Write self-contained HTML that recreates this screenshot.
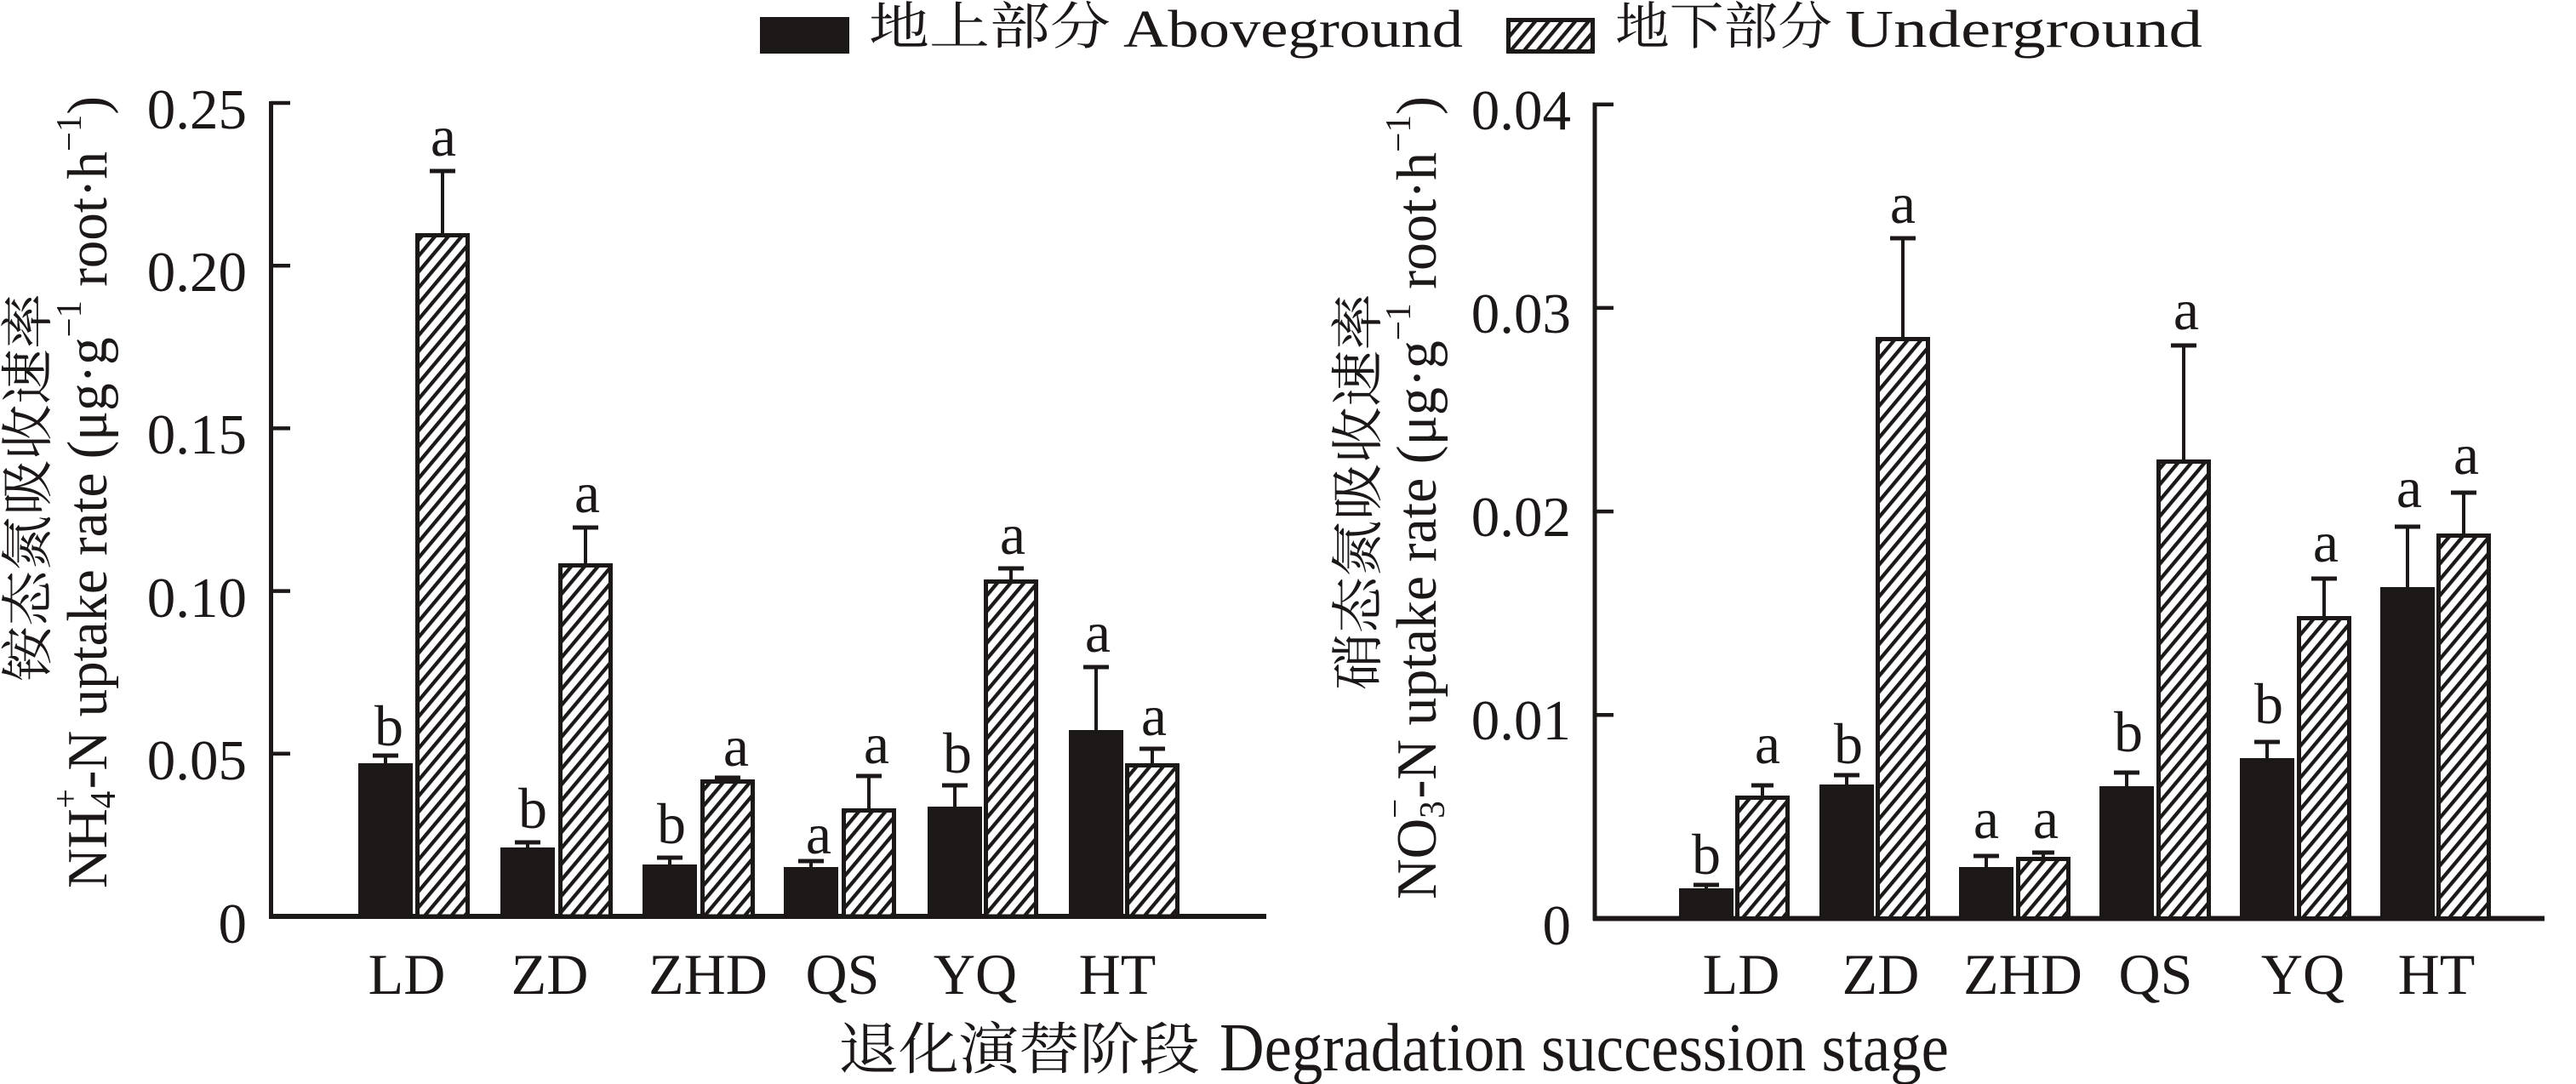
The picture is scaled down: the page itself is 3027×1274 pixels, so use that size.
<!DOCTYPE html>
<html>
<head>
<meta charset="utf-8">
<style>
  html, body { margin:0; padding:0; background:#ffffff; }
  svg { display:block; }
  text { font-family: "Liberation Serif", "Noto Serif CJK SC", serif; fill:#1c1818; }
  .cjk { font-family: "Noto Serif CJK SC", "Liberation Serif", serif; }
</style>
</head>
<body>
<svg width="3027" height="1274" viewBox="0 0 3027 1274" xmlns="http://www.w3.org/2000/svg">
  <defs>
    <pattern id="h" patternUnits="userSpaceOnUse" width="12" height="12" patternTransform="rotate(-50)">
      <rect x="0" y="0" width="12" height="12" fill="#ffffff"/>
      <rect x="-1" y="4" width="14" height="4.3" fill="#1c1818"/>
    </pattern>
  </defs>
  <rect x="0" y="0" width="3027" height="1274" fill="#ffffff"/>

  <!-- Legend -->
  <rect x="893" y="20" width="105" height="43" fill="#1c1818"/>
  <text class="cjk" x="1021" y="52" font-size="60" textLength="284" lengthAdjust="spacingAndGlyphs">地上部分</text>
  <text x="1320" y="55" font-size="62" textLength="399" lengthAdjust="spacingAndGlyphs">Aboveground</text>
  <rect x="1772.5" y="23.5" width="99" height="37" fill="url(#h)" stroke="#1c1818" stroke-width="5"/>
  <text class="cjk" x="1898" y="52" font-size="60" textLength="255" lengthAdjust="spacingAndGlyphs">地下部分</text>
  <text x="2168" y="55" font-size="62" textLength="420" lengthAdjust="spacingAndGlyphs">Underground</text>

  <!-- ================= LEFT CHART ================= -->
  <text class="cjk" transform="translate(54,801) rotate(-90)" font-size="62" textLength="456" lengthAdjust="spacingAndGlyphs">铵态氮吸收速率</text>
  <text transform="translate(125,1044) rotate(-90)" font-size="67" textLength="931" lengthAdjust="spacingAndGlyphs">NH<tspan font-size="42" dy="10">4</tspan><tspan font-size="42" dx="-21" dy="-44">+</tspan><tspan dy="34">-N uptake rate (μg·g</tspan><tspan font-size="42" dy="-30">−1</tspan><tspan dy="30"> root·h</tspan><tspan font-size="42" dy="-30">−1</tspan><tspan dy="30">)</tspan></text>

  <g font-size="67" text-anchor="end">
    <text x="290" y="151">0.25</text>
    <text x="290" y="342">0.20</text>
    <text x="290" y="533">0.15</text>
    <text x="290" y="725">0.10</text>
    <text x="290" y="916">0.05</text>
    <text x="290" y="1108">0</text>
  </g>
  <line x1="318.5" y1="119" x2="318.5" y2="1080" stroke="#1c1818" stroke-width="5"/>
  <line x1="316" y1="1077" x2="1488" y2="1077" stroke="#1c1818" stroke-width="6"/>
  <g stroke="#1c1818" stroke-width="4.5">
    <line x1="318" y1="121" x2="341" y2="121"/>
    <line x1="318" y1="312.2" x2="341" y2="312.2"/>
    <line x1="318" y1="503.4" x2="341" y2="503.4"/>
    <line x1="318" y1="694.6" x2="341" y2="694.6"/>
    <line x1="318" y1="885.8" x2="341" y2="885.8"/>
  </g>

  <g fill="#1c1818">
    <rect x="421" y="897" width="64" height="180"/>
    <rect x="588" y="996" width="64" height="81"/>
    <rect x="755" y="1016" width="64" height="61"/>
    <rect x="921" y="1019" width="64" height="58"/>
    <rect x="1090" y="948" width="64" height="129"/>
    <rect x="1256" y="858" width="64" height="219"/>
  </g>
  <g fill="url(#h)" stroke="#1c1818" stroke-width="5">
    <rect x="490.5" y="276.5" width="59" height="800.5"/>
    <rect x="658.5" y="664.5" width="59" height="412.5"/>
    <rect x="825.5" y="918.5" width="59" height="158.5"/>
    <rect x="991.5" y="952.5" width="59" height="124.5"/>
    <rect x="1158.5" y="683.5" width="59" height="393.5"/>
    <rect x="1324.5" y="899.5" width="59" height="177.5"/>
  </g>
  <g stroke="#1c1818" stroke-width="4">
    <line x1="453" y1="897" x2="453" y2="888"/>
    <line x1="620" y1="996" x2="620" y2="990"/>
    <line x1="787" y1="1016" x2="787" y2="1008"/>
    <line x1="953" y1="1019" x2="953" y2="1012"/>
    <line x1="1122" y1="948" x2="1122" y2="923"/>
    <line x1="1288" y1="858" x2="1288" y2="784"/>
    <line x1="520" y1="274" x2="520" y2="201"/>
    <line x1="688" y1="662" x2="688" y2="620"/>
    <line x1="855" y1="916" x2="855" y2="914"/>
    <line x1="1021" y1="950" x2="1021" y2="912"/>
    <line x1="1188" y1="681" x2="1188" y2="668"/>
    <line x1="1354" y1="897" x2="1354" y2="880"/>
  </g>
  <g stroke="#1c1818" stroke-width="5">
    <line x1="438" y1="888" x2="468" y2="888"/>
    <line x1="605" y1="990" x2="635" y2="990"/>
    <line x1="772" y1="1008" x2="802" y2="1008"/>
    <line x1="938" y1="1012" x2="968" y2="1012"/>
    <line x1="1107" y1="923" x2="1137" y2="923"/>
    <line x1="1273" y1="784" x2="1303" y2="784"/>
    <line x1="505" y1="201" x2="535" y2="201"/>
    <line x1="673" y1="620" x2="703" y2="620"/>
    <line x1="840" y1="914" x2="870" y2="914"/>
    <line x1="1006" y1="912" x2="1036" y2="912"/>
    <line x1="1173" y1="668" x2="1203" y2="668"/>
    <line x1="1339" y1="880" x2="1369" y2="880"/>
  </g>
  <g font-size="68" text-anchor="middle">
    <text x="457" y="876">b</text>
    <text x="521" y="183">a</text>
    <text x="626" y="973">b</text>
    <text x="690" y="602">a</text>
    <text x="789" y="991">b</text>
    <text x="865" y="900">a</text>
    <text x="962" y="1003">a</text>
    <text x="1030" y="897">a</text>
    <text x="1125" y="908">b</text>
    <text x="1190" y="651">a</text>
    <text x="1290" y="766">a</text>
    <text x="1356" y="864">a</text>
  </g>
  <g font-size="68" text-anchor="middle">
    <text x="478" y="1168">LD</text>
    <text x="646" y="1168">ZD</text>
    <text x="832" y="1168">ZHD</text>
    <text x="990" y="1168">QS</text>
    <text x="1146" y="1168">YQ</text>
    <text x="1313" y="1168">HT</text>
  </g>

  <!-- ================= RIGHT CHART ================= -->
  <text class="cjk" transform="translate(1617,811) rotate(-90)" font-size="62" textLength="466" lengthAdjust="spacingAndGlyphs">硝态氮吸收速率</text>
  <text transform="translate(1687,1057) rotate(-90)" font-size="67" textLength="944" lengthAdjust="spacingAndGlyphs">NO<tspan font-size="42" dy="10">3</tspan><tspan font-size="42" dx="-21" dy="-44">−</tspan><tspan dy="34">-N uptake rate (μg·g</tspan><tspan font-size="42" dy="-30">−1</tspan><tspan dy="30"> root·h</tspan><tspan font-size="42" dy="-30">−1</tspan><tspan dy="30">)</tspan></text>

  <g font-size="67" text-anchor="end">
    <text x="1846" y="152">0.04</text>
    <text x="1846" y="391">0.03</text>
    <text x="1846" y="630">0.02</text>
    <text x="1846" y="869">0.01</text>
    <text x="1846" y="1110">0</text>
  </g>
  <line x1="1874" y1="120.5" x2="1874" y2="1082" stroke="#1c1818" stroke-width="5"/>
  <line x1="1872" y1="1079.5" x2="2990" y2="1079.5" stroke="#1c1818" stroke-width="6"/>
  <g stroke="#1c1818" stroke-width="4.5">
    <line x1="1874" y1="122.7" x2="1896" y2="122.7"/>
    <line x1="1874" y1="361.9" x2="1896" y2="361.9"/>
    <line x1="1874" y1="601.1" x2="1896" y2="601.1"/>
    <line x1="1874" y1="840.3" x2="1896" y2="840.3"/>
  </g>

  <g fill="#1c1818">
    <rect x="1973" y="1044" width="64" height="35.5"/>
    <rect x="2138" y="922" width="64" height="157.5"/>
    <rect x="2302" y="1019" width="64" height="60.5"/>
    <rect x="2467" y="924" width="64" height="155.5"/>
    <rect x="2632" y="891" width="64" height="188.5"/>
    <rect x="2797" y="690" width="64" height="389.5"/>
  </g>
  <g fill="url(#h)" stroke="#1c1818" stroke-width="5">
    <rect x="2041.5" y="937.5" width="59" height="142"/>
    <rect x="2206.5" y="398.5" width="59" height="681"/>
    <rect x="2371.5" y="1009.5" width="59" height="70"/>
    <rect x="2536.5" y="542.5" width="59" height="537"/>
    <rect x="2701.5" y="726.5" width="59" height="353"/>
    <rect x="2865.5" y="629.5" width="59" height="450"/>
  </g>
  <g stroke="#1c1818" stroke-width="4">
    <line x1="2005" y1="1044" x2="2005" y2="1040"/>
    <line x1="2170" y1="922" x2="2170" y2="911"/>
    <line x1="2334" y1="1019" x2="2334" y2="1006"/>
    <line x1="2499" y1="924" x2="2499" y2="908"/>
    <line x1="2664" y1="891" x2="2664" y2="872"/>
    <line x1="2829" y1="690" x2="2829" y2="619"/>
    <line x1="2071" y1="935" x2="2071" y2="923"/>
    <line x1="2236" y1="396" x2="2236" y2="280"/>
    <line x1="2401" y1="1007" x2="2401" y2="1002"/>
    <line x1="2566" y1="540" x2="2566" y2="406"/>
    <line x1="2731" y1="724" x2="2731" y2="680"/>
    <line x1="2895" y1="627" x2="2895" y2="579"/>
  </g>
  <g stroke="#1c1818" stroke-width="5">
    <line x1="1990" y1="1040" x2="2020" y2="1040"/>
    <line x1="2155" y1="911" x2="2185" y2="911"/>
    <line x1="2319" y1="1006" x2="2349" y2="1006"/>
    <line x1="2484" y1="908" x2="2514" y2="908"/>
    <line x1="2649" y1="872" x2="2679" y2="872"/>
    <line x1="2814" y1="619" x2="2844" y2="619"/>
    <line x1="2058" y1="923" x2="2084" y2="923"/>
    <line x1="2221" y1="280" x2="2251" y2="280"/>
    <line x1="2388" y1="1002" x2="2414" y2="1002"/>
    <line x1="2551" y1="406" x2="2581" y2="406"/>
    <line x1="2716" y1="680" x2="2746" y2="680"/>
    <line x1="2880" y1="579" x2="2910" y2="579"/>
  </g>
  <g font-size="68" text-anchor="middle">
    <text x="2005" y="1027">b</text>
    <text x="2077" y="897">a</text>
    <text x="2172" y="897">b</text>
    <text x="2236" y="262">a</text>
    <text x="2334" y="985">a</text>
    <text x="2404" y="985">a</text>
    <text x="2501" y="883">b</text>
    <text x="2569" y="387">a</text>
    <text x="2666" y="850">b</text>
    <text x="2733" y="660">a</text>
    <text x="2831" y="596">a</text>
    <text x="2898" y="557">a</text>
  </g>
  <g font-size="68" text-anchor="middle">
    <text x="2046" y="1168">LD</text>
    <text x="2210" y="1168">ZD</text>
    <text x="2377" y="1168">ZHD</text>
    <text x="2533" y="1168">QS</text>
    <text x="2706" y="1168">YQ</text>
    <text x="2863" y="1168">HT</text>
  </g>

  <!-- bottom title -->
  <text class="cjk" x="985" y="1256" font-size="66" textLength="425" lengthAdjust="spacingAndGlyphs">退化演替阶段</text>
  <text x="1433" y="1258" font-size="80" textLength="857" lengthAdjust="spacingAndGlyphs">Degradation succession stage</text>
</svg>
</body>
</html>
